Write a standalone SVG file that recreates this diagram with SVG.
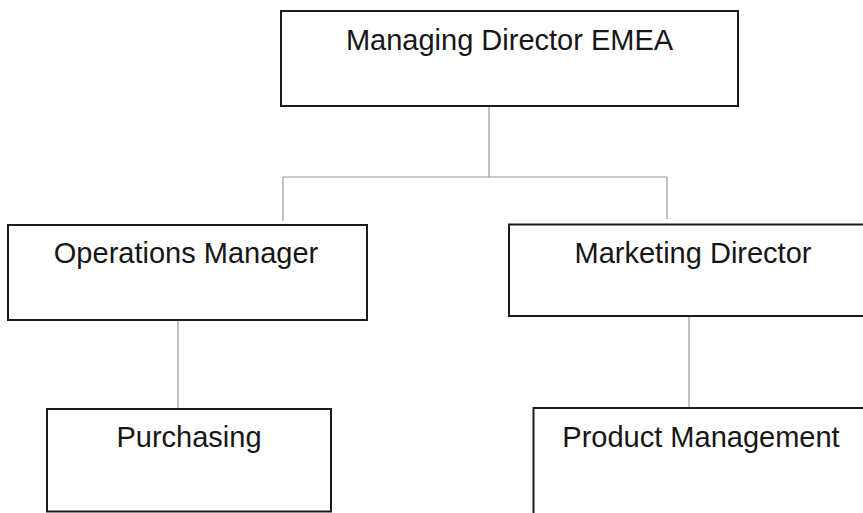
<svg xmlns="http://www.w3.org/2000/svg" width="863" height="513" viewBox="0 0 863 513">
  <style>
    .box { fill: #ffffff; stroke: #1c1c1c; stroke-width: 2; }
    .label { font-family: "Liberation Sans", Arial, sans-serif; font-size: 29px; fill: #161616; text-anchor: middle; }
    .link { fill: none; stroke: #9a9a9a; stroke-width: 1.2; }
  </style>
  <rect width="863" height="513" fill="#ffffff"/>

  <!-- reporting lines -->
  <g id="connectors">
    <path class="link" d="M489 106 V177"/>
    <path class="link" d="M283 177 H667"/>
    <path class="link" d="M283 177 V221"/>
    <path class="link" d="M667 177 V219"/>
    <path class="link" d="M178 321 V409"/>
    <path class="link" d="M689 317 V408"/>
  </g>

  <g id="managing-director">
    <rect class="box" x="281" y="11" width="457" height="95"/>
    <text class="label" x="509.5" y="50">Managing Director EMEA</text>
  </g>

  <g id="operations-manager">
    <rect class="box" x="8" y="225" width="359" height="95"/>
    <text class="label" x="186" y="263">Operations Manager</text>
  </g>

  <g id="marketing-director">
    <rect class="box" x="509" y="224.5" width="368" height="91.5"/>
    <text class="label" x="693" y="263">Marketing Director</text>
  </g>

  <g id="purchasing">
    <rect class="box" x="47" y="409" width="284" height="102.5"/>
    <text class="label" x="189" y="447">Purchasing</text>
  </g>

  <g id="product-management">
    <rect class="box" x="533.5" y="408" width="335" height="110"/>
    <text class="label" x="701" y="447">Product Management</text>
  </g>
</svg>
